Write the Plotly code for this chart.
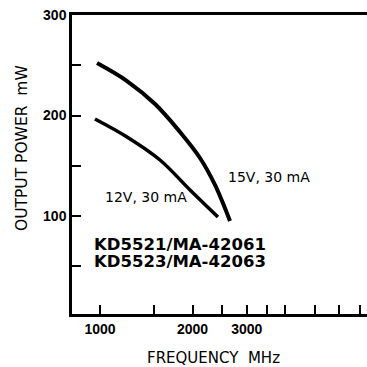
import plotly.graph_objs as go

# Curve data (frequency in MHz, output power in mW)
freq_15v = [978, 1224, 1510, 1820, 2114, 2365, 2646]
power_15v = [252.2, 234.3, 211.4, 183.6, 157.7, 130.9, 95]

freq_12v = [963, 1224, 1567, 1962, 2418]
power_12v = [196.5, 178.6, 155.7, 125.9, 99]

# Tick positions and labels
x_tickvals = [1000, 1500, 2000, 2500, 3000, 3500, 4000, 5000, 6000, 7000]
x_ticktext = ["1000", "", "2000", "", "3000", "", "", "", "", ""]
y_tickvals = [50, 100, 150, 200, 250, 300]
y_ticktext = ["", "100", "", "200", "", "300"]

tick_font = "Liberation Sans, Arial, sans-serif"
text_font = "DejaVu Sans, sans-serif"

fig = go.Figure()

fig.add_trace(go.Scatter(x=freq_15v, y=power_15v, mode='lines',
                         line=dict(color='black', width=4, shape='spline', smoothing=1),
                         name='15V, 30 mA'))
fig.add_trace(go.Scatter(x=freq_12v, y=power_12v, mode='lines',
                         line=dict(color='black', width=3.5, shape='spline', smoothing=1),
                         name='12V, 30 mA'))

fig.update_layout(
    width=367,
    height=367,
    autosize=False,
    showlegend=False,
    plot_bgcolor='white',
    paper_bgcolor='white',
    margin=dict(l=72, r=0, t=15, b=53),
    font=dict(family=text_font, color='black', size=14),
    xaxis=dict(
        type='log',
        range=[2.909, 3.868],
        tickvals=x_tickvals,
        ticktext=x_ticktext,
        ticks='inside',
        ticklen=9,
        tickwidth=2,
        tickcolor='black',
        showgrid=False,
        zeroline=False,
        showline=True,
        linecolor='black',
        linewidth=2.5,
        mirror=True,
        tickfont=dict(family=tick_font, size=14, weight='bold'),
    ),
    yaxis=dict(
        range=[2.5, 300],
        tickvals=y_tickvals,
        ticktext=y_ticktext,
        ticks='inside',
        ticklen=9,
        tickwidth=2,
        tickcolor='black',
        showgrid=False,
        zeroline=False,
        showline=True,
        linecolor='black',
        linewidth=2.5,
        tickfont=dict(family=tick_font, size=14, weight='bold'),
    ),
    annotations=[
        dict(text="OUTPUT POWER  mW", xref='paper', yref='paper', x=-0.1695, y=0.555,
             xanchor='center', yanchor='middle', textangle=-90, showarrow=False,
             font=dict(size=15.5)),
        dict(text="FREQUENCY  MHz", xref='paper', yref='paper', x=0.481, y=-0.147,
             xanchor='center', yanchor='middle', showarrow=False, font=dict(size=15)),
        dict(text="15V, 30 mA", x=3.549, y=139.3, showarrow=False,
             font=dict(size=14)),
        dict(text="12V, 30 mA", x=3.1495, y=118.9, showarrow=False,
             font=dict(size=14)),
        dict(text="KD5521/MA-42061", xref='paper', x=0.0678, y=71.2,
             xanchor='left', yanchor='middle', showarrow=False,
             font=dict(size=16.5, weight='bold')),
        dict(text="KD5523/MA-42063", xref='paper', x=0.0678, y=54.7,
             xanchor='left', yanchor='middle', showarrow=False,
             font=dict(size=16.5, weight='bold')),
    ],
)

fig.write_html("out.html", config={'displayModeBar': False},
               post_script="document.body.style.margin='0px';")
